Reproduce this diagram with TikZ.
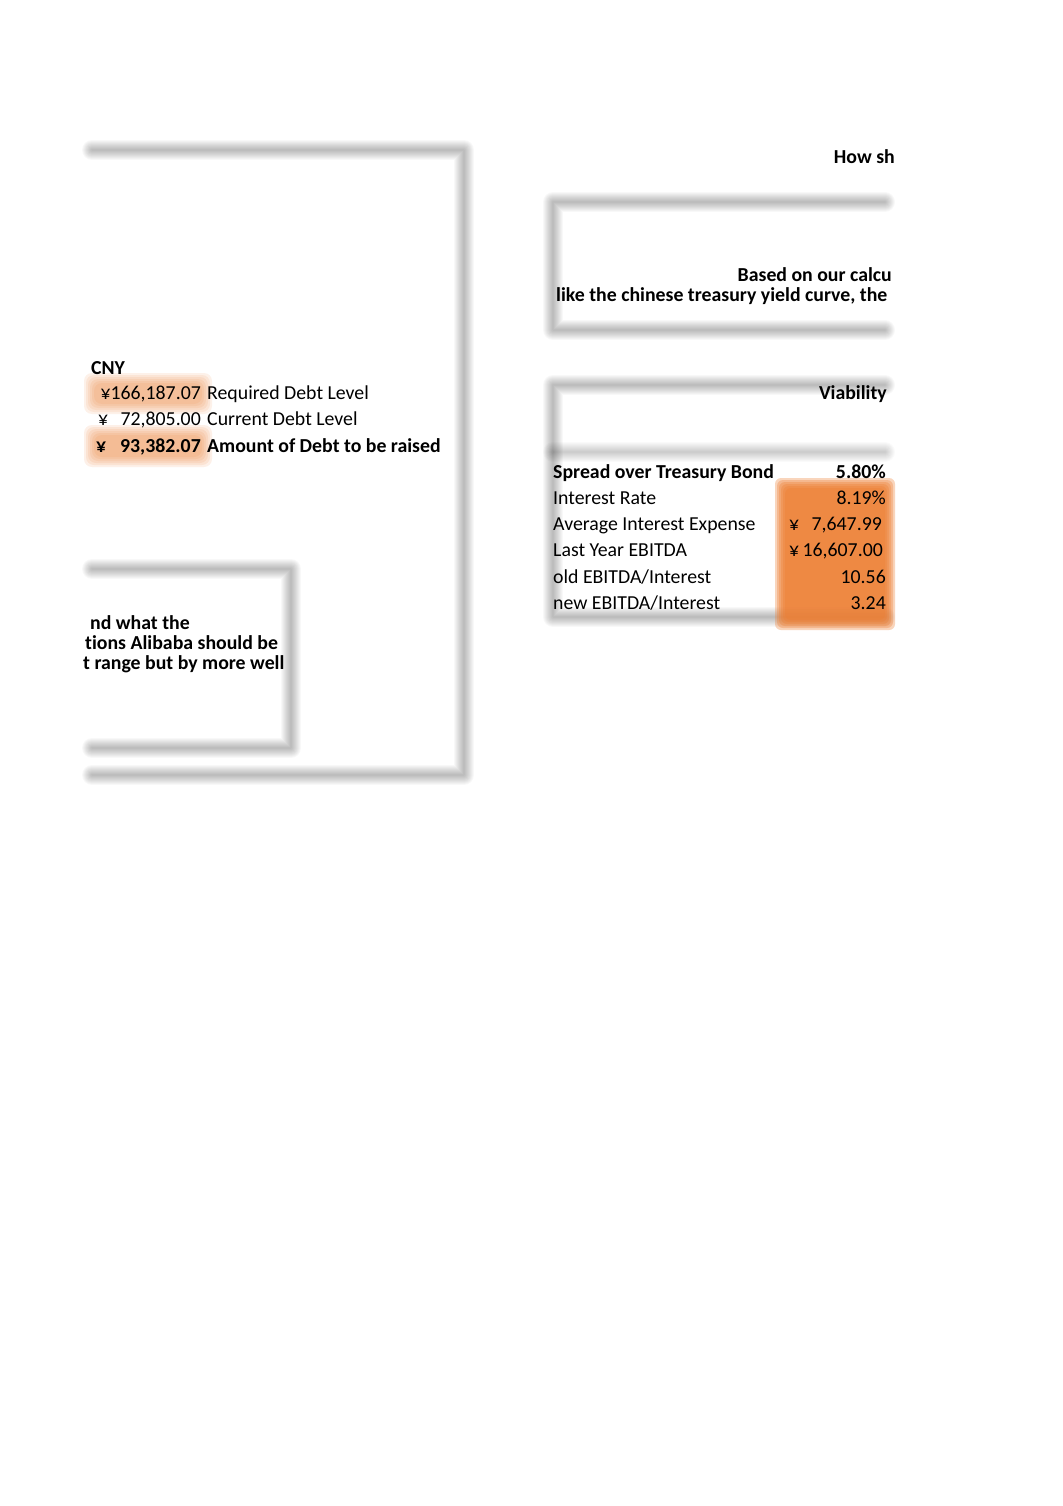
\documentclass[tikz,border=0pt]{standalone}
\usepackage{fontspec}
\setmainfont{Carlito}[Ligatures=CommonOff]
\usetikzlibrary{positioning}
\definecolor{cellorange}{HTML}{ED7D31}

\tikzset{
  cell/.style={inner sep=0pt, text height=14pt, text depth=4pt, font=\fontsize{19.8}{22}\selectfont},
  bcell/.style={cell, font=\fontsize{19.8}{22}\selectfont\bfseries},
  frame/.style={black, line cap=round, line join=round},
}

\begin{document}
\begin{tikzpicture}[x=1pt, y=-1pt, node distance=6pt]
    \useasboundingbox (0,0) rectangle (1062,1506);
    \fill[white] (0,0) rectangle (1062,1506);

    % Frames (blurred shadows)
    \foreach \w in {2,4,...,20} {
      \draw[frame, line width=\w pt, opacity=0.028] (92,150) -- (464,150) -- (464,775) -- (92,775);
      \draw[frame, line width=\w pt, opacity=0.028] (92,569) -- (291,569) -- (291,748) -- (92,748);
      \draw[frame, line width=\w pt, opacity=0.028] (885,202) -- (553,202) -- (553,330) -- (885,330);
      \draw[frame, line width=\w pt, opacity=0.028] (885,385) -- (553,385) -- (553,617) -- (885,617);
      \draw[frame, line width=\w pt, opacity=0.018] (553,452) -- (885,452);
    }

    % Highlights
    \foreach \g in {10,8,...,0} {
      \fill[cellorange, opacity=0.32, rounded corners=6pt] (785-\g,488-\g) rectangle (885+\g,620+\g);
      \fill[cellorange, opacity=0.1, rounded corners=8pt] (94-\g,383-\g) rectangle (202+\g,404+\g);
      \fill[cellorange, opacity=0.11, rounded corners=8pt] (94-\g,435-\g) rectangle (202+\g,457+\g);
    }

    % Right side texts
    \node[bcell, anchor=east] (howsh) at (895,159) {How sh};
    \node[bcell, anchor=east] (based) at (892,276) {Based on our calcu};
    \node[bcell, anchor=west] (curve) at (556,296) {like the chinese treasury yield curve, the};
    \node[bcell, anchor=east] (viability) at (887,394) {Viability};

    % Debt block
    \node[bcell, anchor=west] (cny) at (91,369) {CNY};
    \node[cell, anchor=east] (reqval) at (201,394) {¥166,187.07};
    \node[cell, right=of reqval] (reqlbl) {Required Debt Level};
    \node[cell, anchor=west] (curyen) at (98,420) {¥};
    \node[cell, anchor=east] (curval) at (201,420) {72,805.00};
    \node[cell, right=of curval] (curlbl) {Current Debt Level};
    \node[bcell, anchor=west] (raiseyen) at (96,447) {¥};
    \node[bcell, anchor=east] (raiseval) at (201,447) {93,382.07};
    \node[bcell, right=of raiseval] (raiselbl) {Amount of Debt to be raised};

    % Viability table
    \node[bcell, anchor=west] (spread) at (553,473) {Spread over Treasury Bond};
    \node[cell, anchor=west] (rate) at (553,499) {Interest Rate};
    \node[cell, anchor=west] (avgexp) at (553,525) {Average Interest Expense};
    \node[cell, anchor=west] (ebitda) at (553,551) {Last Year EBITDA};
    \node[cell, anchor=west] (oldcov) at (553,578) {old EBITDA/Interest};
    \node[cell, anchor=west] (newcov) at (553,604) {new EBITDA/Interest};

    \node[bcell, anchor=east] (spreadval) at (886,473) {5.80\%};
    \node[cell, anchor=east] (rateval) at (886,499) {8.19\%};
    \node[cell, anchor=west] (avgyen) at (789,525) {¥};
    \node[cell, anchor=east] (avgval) at (882,525) {7,647.99};
    \node[cell, anchor=west] (ebitdayen) at (789,551) {¥};
    \node[cell, anchor=east] (ebitdaval) at (883,551) {16,607.00};
    \node[cell, anchor=east] (oldval) at (886,578) {10.56};
    \node[cell, anchor=east] (newval) at (886,604) {3.24};

    % Clipped text box
    \node[bcell, anchor=west] (textA) at (90,624) {nd what the};
    \node[bcell, anchor=west] (textB) at (85,644) {tions Alibaba should be};
    \node[bcell, anchor=west] (textC) at (83,664) {t range but by more well};
\end{tikzpicture}
\end{document}
